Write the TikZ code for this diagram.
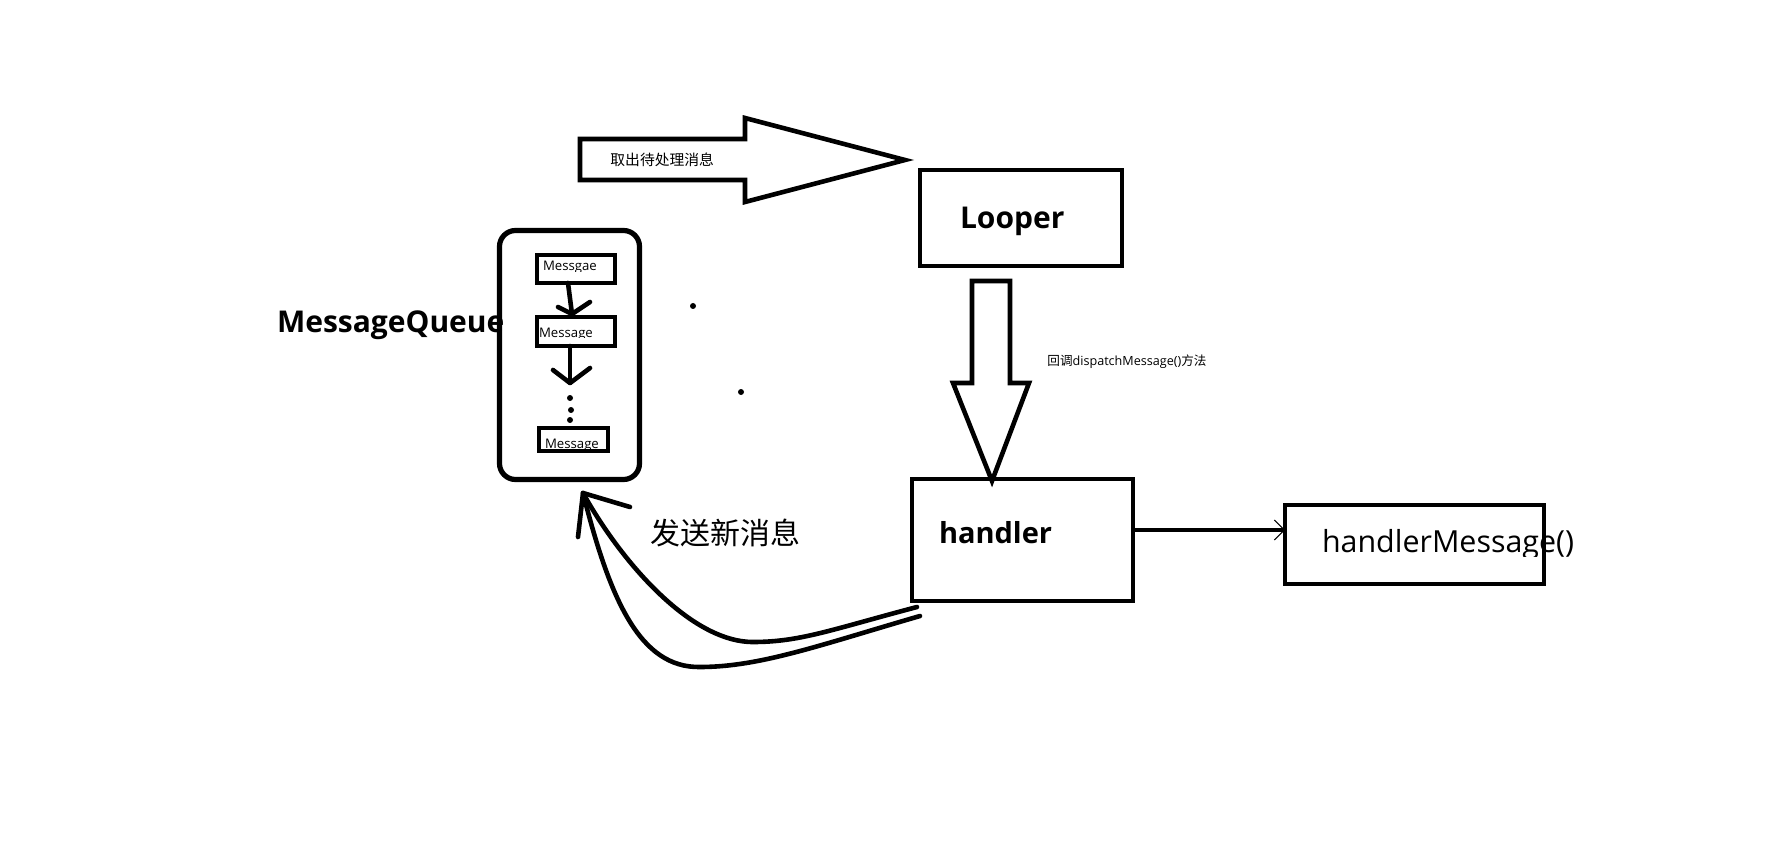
\documentclass[tikz,border=0pt]{standalone}
\usepackage{fontspec}
\setmainfont{Open Sans}
\newfontfamily\cjk{Noto Sans CJK SC}
\usetikzlibrary{arrows.meta}
\begin{document}
\begin{tikzpicture}[x=0.5pt,y=-0.5pt,
  box/.style={draw, line width=2.3pt, inner sep=0pt, outer sep=0pt},
  qbox/.style={draw, line width=2.6pt, rounded corners=8pt, inner sep=0pt, outer sep=0pt},
  txt/.style={inner sep=0pt, outer sep=0pt, anchor=base west},
  hollow/.style={draw, line width=2.3pt, line join=miter},
  conn/.style={line width=2.3pt, line cap=round, line join=round},
  bigb/.style={font=\fontsize{15}{18}\selectfont\bfseries},
  dotnode/.style={circle, fill, inner sep=0pt, minimum size=3pt}
]
\useasboundingbox (0,0) rectangle (1773,866);

% --- boxes ---
\node[box, minimum width=101pt, minimum height=48pt] (looper) at (1021,218) {};
\node[box, minimum width=110.5pt, minimum height=61pt] (handler) at (1022.5,540) {};
\node[box, minimum width=129.5pt, minimum height=39.5pt] (hm) at (1414.5,544.5) {};
\node[qbox, minimum width=70pt, minimum height=124.5pt] (queue) at (569.5,355) {};
\node[box, minimum width=39pt, minimum height=14pt] (m1) at (576,269) {};
\node[box, minimum width=39pt, minimum height=14.5pt] (m2) at (576,331.5) {};
\node[box, minimum width=34.5pt, minimum height=11.5pt] (m3) at (573.5,439.5) {};

% --- labels ---
\node[txt, bigb] (tlooper) at (960,229) {Looper};
\node[txt, font=\fontsize{14.5}{17}\selectfont\bfseries] (thandler) at (939,543) {handler};
\node[txt, font=\fontsize{15}{18}\selectfont\bfseries] (tqueue) at (277,333) {MessageQueue};
\begin{scope}
  \clip (1290,500) rectangle (1600,556);
  \node[txt, font=\fontsize{15.2}{18}\selectfont] (thm) at (1322,552) {handlerMessage()};
\end{scope}
\begin{scope}
  \clip (539,255) rectangle (615,272);
  \node[txt, font=\fontsize{6.6}{8}\selectfont] (tm1) at (543,271) {Messgae};
\end{scope}
\begin{scope}
  \clip (537,316) rectangle (615,338);
  \node[txt, font=\fontsize{6.6}{8}\selectfont] (tm2) at (539,337) {Message};
\end{scope}
\begin{scope}
  \clip (540,428) rectangle (608,449);
  \node[txt, font=\fontsize{6.6}{8}\selectfont] (tm3) at (545,448) {Message};
\end{scope}
\node[anchor=west, inner sep=0pt, font=\cjk\fontsize{15}{18}\selectfont] (tsend) at (650,533) {发送新消息};
\node[anchor=west, inner sep=0pt, font=\cjk\fontsize{7.4}{9}\selectfont] (ttake) at (610,160) {取出待处理消息};
\node[anchor=west, inner sep=0pt, font=\fontsize{6.3}{8}\selectfont] (tcall) at (1047,362) {{\cjk 回调}dispatchMessage(){\cjk 方法}};

% --- hollow block arrows ---
\draw[hollow] (580,139) -- (745,139) -- (745,118) -- (905,160) -- (745,202) -- (745,180) -- (580,180) -- cycle;
\draw[hollow] (972,281) -- (1010,281) -- (1010,383) -- (1029,383) -- (992,481) -- (953,383) -- (972,383) -- cycle;

% --- handler -> handlerMessage ---
\draw[line width=2.3pt, -{Straight Barb[line width=0.5pt, length=5pt, width=10pt]}]
  ([yshift=5pt]handler.east) -- ([yshift=5pt]handler.east -| hm.west);

% --- inner queue arrows ---
\coordinate (a1tip) at (572,314);
\coordinate (a2tip) at (570,383);
\draw[conn] ([xshift=-4pt]m1.south) -- (a1tip);
\draw[conn] (558,307) -- (a1tip) -- (590,302);
\draw[conn] ([xshift=-3pt]m2.south) -- (a2tip);
\draw[conn] (553,370) -- (a2tip) -- (590,368);
\node[dotnode] (d1) at (570,398) {};
\node[dotnode] (d2) at (571,410) {};
\node[dotnode] (d3) at (570,420) {};

% --- stray dots ---
\node[dotnode] (s1) at (693,306) {};
\node[dotnode] (s2) at (741,392) {};

% --- curved arrows handler -> queue ---
\coordinate (qtip) at (583,493);
\coordinate (c1s) at (917,607);
\coordinate (c2s) at (920,616);
\draw[conn] (c1s) .. controls (830,630) and (800,642) .. (753,642)
  .. controls (690,642) and (620,560) .. (qtip);
\draw[conn] (c2s) .. controls (820,645) and (760,667) .. (700,667)
  .. controls (640,668) and (610,600) .. (qtip);
\draw[conn] (578,537) -- (qtip) -- (630,507);
\end{tikzpicture}
\end{document}
